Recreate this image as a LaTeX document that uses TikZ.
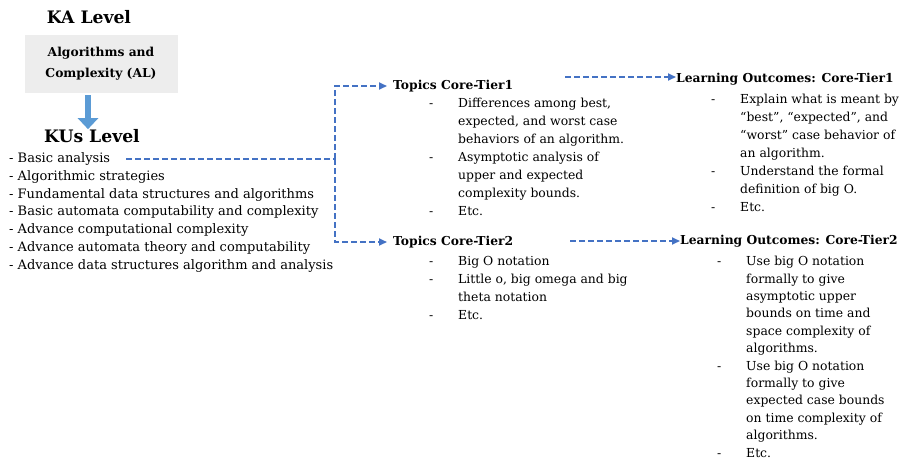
\documentclass[tikz,border=0pt]{standalone}
\usepackage{fontspec}
\setmainfont{DejaVu Serif}
\usepackage{xcolor}
\usetikzlibrary{positioning,arrows.meta,calc}
\definecolor{linkblue}{HTML}{4472C4}
\definecolor{flowblue}{HTML}{5B9BD5}
\definecolor{kabg}{HTML}{EDEDED}
\newcommand{\itm}[1]{\makebox[29pt][l]{-}#1}
\newcommand{\cnt}[1]{\hspace*{29pt}#1}

\begin{document}
\begin{tikzpicture}[
    x=1pt, y=-1pt,
    head/.style={font=\fontsize{17.2}{20}\selectfont\bfseries, inner sep=0pt},
    kabox/.style={fill=kabg, minimum width=153pt, minimum height=58pt, align=center, font=\fontsize{12.3}{21}\selectfont\bfseries},
    title/.style={font=\fontsize{12.3}{18}\selectfont\bfseries, anchor=west, inner sep=0pt},
    kuitem/.style={font=\fontsize{13}{18}\selectfont, anchor=west, inner sep=0pt},
    items/.style={font=\fontsize{12.4}{18}\selectfont, align=left, anchor=north west, inner sep=0pt},
    link/.style={draw=linkblue, line width=1.7pt, dash pattern=on 6pt off 3pt},
    linkarr/.style={link, -{Triangle[length=8pt,width=7pt]}},
    flow/.style={draw=flowblue, line width=6pt, -{Triangle[length=11pt,width=20pt]}}
]
    \useasboundingbox (0,0) rectangle (909,459);

    % KA level
    \node[head] (kalevel) at (89,17) {KA Level};
    \node[kabox] (ka) at (101,64) {Algorithms and\\Complexity (AL)};
    \node[head] (kulevel) at (92,136) {KUs Level};
    \coordinate (kaout) at (88,95);
    \draw[flow] (kaout) -- (kaout |- kulevel.north);

    % KUs
    \foreach \txt [count=\i] in {Basic analysis, Algorithmic strategies,
        Fundamental data structures and algorithms,
        Basic automata computability and complexity,
        Advance computational complexity,
        Advance automata theory and computability,
        Advance data structures algorithm and analysis}
        \node[kuitem] (ku\i) at (9,{159+17.8*(\i-1)}) {- \txt};

    % Topics
    \node[title] (t1) at (393,86) {Topics Core-Tier1};
    \node[items] (t1list) at (429,98) {\itm{Differences among best,}\\
        \cnt{expected, and worst case}\\
        \cnt{behaviors of an algorithm.}\\
        \itm{Asymptotic analysis of}\\
        \cnt{upper and expected}\\
        \cnt{complexity bounds.}\\
        \itm{Etc.}};
    \node[title] (t2) at (393,242) {Topics Core-Tier2};
    \node[items] (t2list) at (429,256) {\itm{Big O notation}\\
        \itm{Little o, big omega and big}\\
        \cnt{theta notation}\\
        \itm{Etc.}};

    % Learning outcomes
    \node[title] (lo1) at (676,79) {Learning Outcomes: Core-Tier1};
    \node[items] (lo1list) at (711,94) {\itm{Explain what is meant by}\\
        \cnt{``best'', ``expected'', and}\\
        \cnt{``worst'' case behavior of}\\
        \cnt{an algorithm.}\\
        \itm{Understand the formal}\\
        \cnt{definition of big O.}\\
        \itm{Etc.}};
    \node[title] (lo2) at (680,241) {Learning Outcomes: Core-Tier2};
    \node[items, font=\fontsize{12.4}{17.4}\selectfont] (lo2list) at (717,256) {\itm{Use big O notation}\\
        \cnt{formally to give}\\
        \cnt{asymptotic upper}\\
        \cnt{bounds on time and}\\
        \cnt{space complexity of}\\
        \cnt{algorithms.}\\
        \itm{Use big O notation}\\
        \cnt{formally to give}\\
        \cnt{expected case bounds}\\
        \cnt{on time complexity of}\\
        \cnt{algorithms.}\\
        \itm{Etc.}};

    % dashed links
    \coordinate (split) at (335,159);
    \draw[link] ([xshift=16pt]ku1.east) -- (split);
    \draw[linkarr] (split) |- ([xshift=-6pt]t1.west);
    \draw[linkarr] (split) |- ([xshift=-6pt]t2.west);
    \coordinate (t1out) at (565,77);
    \coordinate (t2out) at (570,241);
    \draw[linkarr] (t1out) -- (t1out -| lo1.west);
    \draw[linkarr] (t2out) -- (t2out -| lo2.west);
\end{tikzpicture}
\end{document}
